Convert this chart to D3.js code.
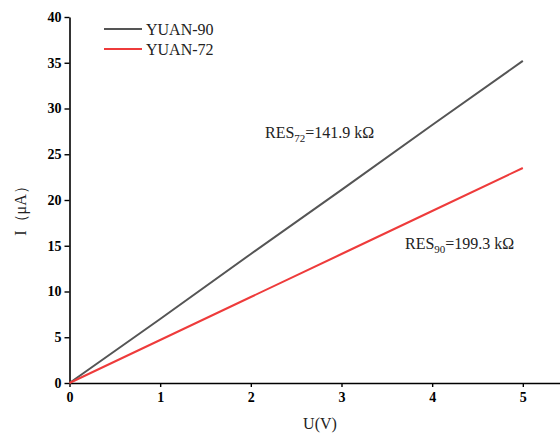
<!DOCTYPE html>
<html>
<head>
<meta charset="utf-8">
<script src="https://cdn.jsdelivr.net/npm/d3@7"></script>
<style>
  body { margin: 0; background: #fff; }
  text { font-family: "Liberation Serif", "Times New Roman", serif; }
</style>
</head>
<body>
<div class="chart"></div>
<script>
const width = 560;
const height = 434;

const voltage = [0, 1, 2, 3, 4, 5];
const yuan90 = [0, 7.0, 14.1, 21.1, 28.2, 35.2];
const yuan72 = [0, 4.7, 9.4, 14.1, 18.8, 23.5];
const xTicks = [0, 1, 2, 3, 4, 5];
const yTicks = [0, 5, 10, 15, 20, 25, 30, 35, 40];
const seriesNames = ["YUAN-90", "YUAN-72"];
const seriesColors = ["#555555", "#ee3b3b"];

const svg = d3
  .select(".chart")
  .append("svg")
  .attr("width", width)
  .attr("height", height);

const x = d3.scaleLinear().domain([0, 5.41]).range([69.5, 560]);
const y = d3.scaleLinear().domain([0, 40]).range([383, 17]);

// axes
const xAxis = d3.axisBottom(x).tickValues(xTicks).tickFormat(d3.format("d"))
  .tickSize(4).tickSizeOuter(0).tickPadding(5);
const gx = svg.append("g").attr("transform", "translate(0, 383)").call(xAxis);

const yAxis = d3.axisLeft(y).tickValues(yTicks).tickFormat(d3.format("d"))
  .tickSize(5).tickSizeOuter(0).tickPadding(3);
const gy = svg.append("g").attr("transform", "translate(69.5, 0)").call(yAxis);

[gx, gy].forEach(g => {
  g.attr("font-family", "Liberation Serif").attr("font-size", 14);
  g.select(".domain").attr("stroke", "#000").attr("stroke-width", 1.6);
  g.selectAll(".tick line").attr("stroke", "#000").attr("stroke-width", 1.4);
  g.selectAll(".tick text")
    .attr("fill", "#000")
    .style("font-family", "'Liberation Serif', serif")
    .style("font-size", "14px")
    .style("font-weight", "bold");
});

// lines
const line = d3
  .line()
  .x((d, i) => x(voltage[i]))
  .y(d => y(d));

[yuan90, yuan72].forEach((s, k) => {
  svg
    .append("path")
    .datum(s)
    .attr("d", line)
    .attr("fill", "none")
    .attr("stroke", seriesColors[k])
    .attr("stroke-width", 2);
});

// legend
seriesNames.forEach((name, k) => {
  const ly = 29 + k * 20;
  svg.append("line")
    .attr("x1", 104).attr("x2", 142)
    .attr("y1", ly).attr("y2", ly)
    .attr("stroke", seriesColors[k])
    .attr("stroke-width", 2);
  svg.append("text")
    .attr("x", 146).attr("y", ly + 5.5)
    .style("font-size", "16px")
    .attr("fill", "#222")
    .text(name);
});

// annotations
const ann1 = svg.append("text").attr("x", 265).attr("y", 138).style("font-size", "16px").attr("fill", "#222");
ann1.append("tspan").text("RES");
ann1.append("tspan").attr("dy", 4).style("font-size", "11px").text("72");
ann1.append("tspan").attr("dy", -4).text("=141.9 kΩ");

const ann2 = svg.append("text").attr("x", 405).attr("y", 249).style("font-size", "16px").attr("fill", "#222");
ann2.append("tspan").text("RES");
ann2.append("tspan").attr("dy", 4).style("font-size", "11px").text("90");
ann2.append("tspan").attr("dy", -4).text("=199.3 kΩ");

// axis titles
svg.append("text")
  .attr("x", 320).attr("y", 429)
  .attr("text-anchor", "middle")
  .style("font-size", "16px")
  .attr("fill", "#222")
  .text("U(V)");

svg.append("text")
  .attr("transform", "translate(26, 207) rotate(-90)")
  .attr("text-anchor", "middle")
  .style("font-size", "16px")
  .attr("fill", "#222")
  .text("I（μA）");
</script>
</body>
</html>
